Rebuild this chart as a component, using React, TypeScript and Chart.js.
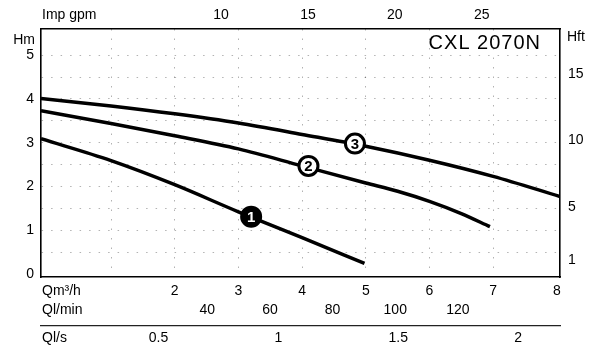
import { useEffect, useRef } from 'react';
import { Chart, registerables } from 'chart.js';

Chart.register(...registerables);

// ---- data (flow in m³/h, head in m) ----
const flow1 = [-0.1, 1, 2, 3, 4, 4.98];
const head1 = [3.09, 2.59, 2.04, 1.42, 0.83, 0.24];
const flow2 = [-0.1, 1, 2, 3, 4, 5, 5.5, 6, 6.5, 6.95];
const head2 = [3.73, 3.44, 3.16, 2.86, 2.47, 2.08, 1.89, 1.66, 1.38, 1.08];
const flow3 = [-0.1, 1, 2, 3, 4, 5, 6, 7, 8.05];
const head3 = [4.01, 3.84, 3.66, 3.45, 3.19, 2.92, 2.6, 2.23, 1.77];

const curveLabels = ['1', '2', '3'];
const markerFlow = [3.2, 4.1, 4.83];
const markerHead = [1.31, 2.47, 2.98];

const m3hTicks = [2, 3, 4, 5, 6, 7, 8];
const lminTicks = [40, 60, 80, 100, 120];
const lsTicks = [0.5, 1, 1.5, 2];
const gpmTicks = [10, 15, 20, 25];
const hmTicks = [0, 1, 2, 3, 4, 5];
const hftTicks = [1, 5, 10, 15];
const flowGrid = [1, 2, 3, 4, 5, 6, 7];
const headGrid = [0.5, 1, 1.5, 2, 2.5, 3, 3.5, 4, 4.5, 5];

const modelName = 'CXL 2070N';

// ---- axis ranges / conversions ----
const Q_MIN = -0.1;
const Q_MAX = 8.05;
const H_MIN = -0.07;
const H_MAX = 5.6;
const M3H_PER_GPM = 0.2728;
const M_PER_FT = 0.3048;
const LMIN_MIN = -13.1;
const LMIN_MAX = 152.6;
const LS_MIN = 0.01;
const LS_MAX = 2.175;

const FAMILY = '"Liberation Sans", Arial, Helvetica, sans-serif';
const FS = 14;
const HALF_LINE = (FS * 1.2) / 2;
const GRID = 'rgba(0,0,0,0.3)';

const pts = (xs: number[], ys: number[]) => xs.map((x, i) => ({ x, y: ys[i] }));
const uniqSorted = (a: number[], b: number[]) => Array.from(new Set([...a, ...b])).sort((p, q) => p - q);

const fixed = (size: number) => (s: any) => {
  if (s.isHorizontal()) s.height = size;
  else s.width = size;
  s.paddingLeft = 0;
  s.paddingRight = 0;
  s.paddingTop = 0;
  s.paddingBottom = 0;
};
const setTicks = (vals: number[]) => (s: any) => {
  s.ticks = vals.map((v) => ({ value: v }));
};
const tickFont = { family: FAMILY, size: FS };

const textPlugin = {
  id: 'texts',
  afterDatasetsDraw(chart: any) {
    const { ctx } = chart;
    const meta = chart.getDatasetMeta(3);
    ctx.save();
    ctx.font = `bold 15px ${FAMILY}`;
    ctx.textAlign = 'center';
    ctx.textBaseline = 'middle';
    meta.data.forEach((pt: any, i: number) => {
      ctx.fillStyle = i === 0 ? '#fff' : '#000';
      ctx.fillText(curveLabels[i], pt.x, pt.y + 1);
    });
    ctx.restore();
  },
  afterDraw(chart: any) {
    const { ctx, chartArea, scales } = chart;
    ctx.save();
    ctx.fillStyle = '#000';
    ctx.font = `${FS}px ${FAMILY}`;
    ctx.textBaseline = 'middle';
    ctx.textAlign = 'left';
    ctx.fillText('Qm³/h', chartArea.left + 1, scales.x.top + 6 + HALF_LINE);
    ctx.fillText('Ql/min', chartArea.left + 1, scales.xl.top + 2 + HALF_LINE);
    ctx.fillText('Ql/s', chartArea.left + 1, scales.xs.top + 4 + HALF_LINE);
    ctx.fillText('Imp gpm', chartArea.left + 1, scales.xg.bottom - 5 - HALF_LINE);
    ctx.fillText('Hft', chartArea.right + 7, chartArea.top + 8);
    ctx.textAlign = 'right';
    ctx.fillText('Hm', chartArea.left - 6, chartArea.top + 11);
    ctx.font = `20px ${FAMILY}`;
    (ctx as any).letterSpacing = '1px';
    ctx.fillText(modelName, chartArea.right - 19, chartArea.top + 14);
    ctx.restore();
  },
};

export default function App() {
  const ref = useRef<HTMLCanvasElement | null>(null);

  useEffect(() => {
    if (!ref.current) return;
    const curve = (xs: number[], ys: number[]) => ({
      data: pts(xs, ys),
      borderColor: '#000',
      borderWidth: 3.5,
      pointRadius: 0,
      cubicInterpolationMode: 'monotone' as const,
      order: 1,
      xAxisID: 'x',
      yAxisID: 'y',
    });
    const chart = new Chart(ref.current, {
      type: 'line',
      data: {
        datasets: [
          curve(flow1, head1),
          curve(flow2, head2),
          curve(flow3, head3),
          {
            data: pts(markerFlow, markerHead),
            showLine: false,
            pointRadius: 9.5,
            pointBackgroundColor: ['#000', '#fff', '#fff'],
            pointBorderColor: '#000',
            pointBorderWidth: 3,
            order: 0,
            xAxisID: 'x',
            yAxisID: 'y',
          } as any,
        ],
      },
      options: {
        animation: false,
        responsive: false,
        devicePixelRatio: 1,
        layout: { padding: 0 },
        plugins: { legend: { display: false }, tooltip: { enabled: false } },
        scales: {
          x: {
            type: 'linear',
            position: 'bottom',
            weight: 0,
            min: Q_MIN,
            max: Q_MAX,
            afterBuildTicks: setTicks(uniqSorted(m3hTicks, flowGrid)),
            afterFit: fixed(23),
            ticks: {
              autoSkip: false,
              maxRotation: 0,
              minRotation: 0,
              padding: 6,
              color: '#000',
              font: tickFont,
              callback: (v: any) => (m3hTicks.includes(v) ? String(v) : ''),
            },
            grid: {
              drawTicks: false,
              lineWidth: 1,
              color: (c: any) => (c.tick && flowGrid.includes(c.tick.value) ? GRID : 'transparent'),
            },
            border: { display: true, color: '#000', width: 1.6, dash: [1.5, 8] },
          },
          xl: {
            type: 'linear',
            position: 'bottom',
            weight: 1,
            min: LMIN_MIN,
            max: LMIN_MAX,
            afterBuildTicks: setTicks(lminTicks),
            afterFit: fixed(26),
            ticks: { autoSkip: false, maxRotation: 0, minRotation: 0, padding: 2, color: '#000', font: tickFont, callback: (v: any) => String(v) },
            grid: { display: false, drawTicks: false },
            border: { display: false },
          },
          xs: {
            type: 'linear',
            position: 'bottom',
            weight: 2,
            min: LS_MIN,
            max: LS_MAX,
            afterBuildTicks: setTicks(lsTicks),
            afterFit: fixed(24),
            ticks: { autoSkip: false, maxRotation: 0, minRotation: 0, padding: 4, color: '#000', font: tickFont, callback: (v: any) => String(v) },
            grid: { display: false, drawTicks: false },
            border: { display: true, color: '#222', width: 1.2 },
          },
          xg: {
            type: 'linear',
            position: 'top',
            min: Q_MIN / M3H_PER_GPM,
            max: Q_MAX / M3H_PER_GPM,
            afterBuildTicks: setTicks(gpmTicks),
            afterFit: fixed(29),
            ticks: { autoSkip: false, maxRotation: 0, minRotation: 0, padding: 5, color: '#000', font: tickFont, callback: (v: any) => String(v) },
            grid: { display: false, drawTicks: false },
            border: { display: true, color: '#000', width: 1.6 },
          },
          y: {
            type: 'linear',
            position: 'left',
            min: H_MIN,
            max: H_MAX,
            afterBuildTicks: setTicks(uniqSorted(hmTicks, headGrid)),
            afterFit: fixed(41),
            ticks: {
              autoSkip: false,
              padding: 7,
              color: '#000',
              font: tickFont,
              callback: (v: any) => (hmTicks.includes(v) ? String(v) : ''),
            },
            grid: {
              drawTicks: false,
              lineWidth: 1,
              color: (c: any) => (c.tick && headGrid.includes(c.tick.value) ? GRID : 'transparent'),
            },
            border: { display: true, color: '#000', width: 1.6, dash: [1.5, 8] },
          },
          yf: {
            type: 'linear',
            position: 'right',
            min: H_MIN / M_PER_FT,
            max: H_MAX / M_PER_FT,
            afterBuildTicks: setTicks(hftTicks),
            afterFit: fixed(30),
            ticks: { autoSkip: false, padding: 8, color: '#000', font: tickFont, callback: (v: any) => String(v) },
            grid: { display: false, drawTicks: false },
            border: { display: true, color: '#000', width: 1.6 },
          },
        },
      } as any,
      plugins: [textPlugin],
    });
    return () => chart.destroy();
  }, []);

  return (
    <div style={{ position: 'absolute', left: 0, top: 0, width: 590, height: 350, background: '#fff' }}>
      <canvas ref={ref} width={590} height={350} style={{ display: 'block' }} />
    </div>
  );
}
